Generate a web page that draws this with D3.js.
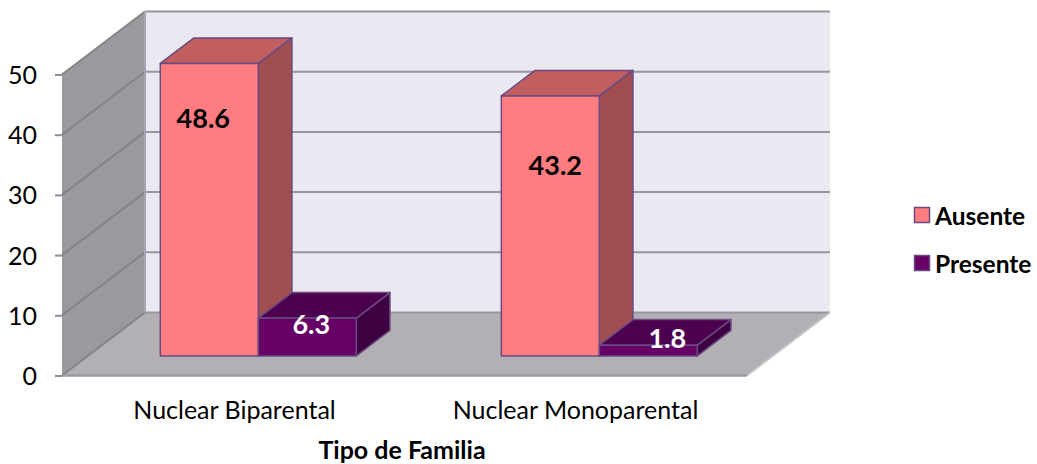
<!DOCTYPE html>
<html>
<head>
<meta charset="utf-8">
<script src="https://cdn.jsdelivr.net/npm/d3@7"></script>
<style>
  html, body { margin: 0; background: #fff; }
  text { font-family: Lato, "Open Sans", sans-serif; fill: #000; }
  .axis path { display: none; }
  .axis line { stroke: #8f8c96; stroke-width: 2; }
  .axis text { font-size: 25px; }
</style>
</head>
<body>
<div id="chart"></div>
<script>
const categories = ["Nuclear Biparental", "Nuclear Monoparental"];
const seriesNames = ["Ausente", "Presente"];
const ausente = [48.6, 43.2];
const presente = [6.3, 1.8];
const yTicks = [0, 10, 20, 30, 40, 50];
const xTitle = "Tipo de Familia";

const w = 1037;
const h = 464;

// oblique projection of the 3d box
const depthX = 83;
const depthY = -63;
const barDepth = 0.405;
const barPlaneX = 0.29;
const barPlaneY = 0.31;

const color = {
  Ausente: { front: "#ff7c80", top: "#c15e60", side: "#a14e51", text: "#000" },
  Presente: { front: "#660066", top: "#4d004f", side: "#3d0040", text: "#fff" }
};
const barStroke = "#6a4a80";

// hand placed data labels, relative to the middle of the top of the front face
const labelNudge = {
  Ausente: [[-6, 54], [5, 69]],
  Presente: [[4, 5], [19, -8]]
};

let x = d3.scaleBand().domain(categories).range([64, 746]);
let xSeries = d3
  .scaleBand()
  .domain(seriesNames)
  .range([x.bandwidth() / 2 - 98.25, x.bandwidth() / 2 + 97.75]);
let y = d3.scaleLinear().domain([0, 50]).range([375.5, 74.5]);

let rows = [];
categories.forEach(function (c, i) {
  rows.push({ category: c, i: i, series: "Ausente", value: ausente[i] });
  rows.push({ category: c, i: i, series: "Presente", value: presente[i] });
});

let svg = d3
  .select("#chart")
  .append("svg")
  .attr("width", w)
  .attr("height", h)
  .style("display", "block");

function pts(list) {
  return list
    .map(function (p) {
      return p.join(",");
    })
    .join(" ");
}

const x0 = 62;
const x1 = 747;

// back wall
svg
  .append("polygon")
  .attr(
    "points",
    pts([
      [x0 + depthX, y(50) + depthY],
      [x1 + depthX, y(50) + depthY],
      [x1 + depthX, y(0) + depthY],
      [x0 + depthX, y(0) + depthY]
    ])
  )
  .attr("fill", "#eae8f0");

// left wall
svg
  .append("polygon")
  .attr(
    "points",
    pts([
      [x0, y(50)],
      [x0 + depthX, y(50) + depthY],
      [x0 + depthX, y(0) + depthY],
      [x0, y(0)]
    ])
  )
  .attr("fill", "#9b999e");

// floor
svg
  .append("polygon")
  .attr(
    "points",
    pts([
      [x0, y(0)],
      [x1, y(0)],
      [x1 + depthX, y(0) + depthY],
      [x0 + depthX, y(0) + depthY]
    ])
  )
  .attr("fill", "#b2b0b4");

// gridlines, along the back wall then along the left wall
let grid = svg.append("g").attr("fill", "none").attr("stroke", "#98959f").attr("stroke-width", 2);
grid
  .selectAll(".back")
  .data(yTicks)
  .enter()
  .append("line")
  .attr("class", "back")
  .attr("x1", x0 + depthX)
  .attr("x2", x1 + depthX)
  .attr("y1", function (d) {
    return y(d) + depthY;
  })
  .attr("y2", function (d) {
    return y(d) + depthY;
  });
grid
  .selectAll(".side")
  .data(yTicks)
  .enter()
  .append("line")
  .attr("class", "side")
  .attr("stroke", "#858388")
  .attr("x1", x0)
  .attr("x2", x0 + depthX)
  .attr("y1", function (d) {
    return y(d);
  })
  .attr("y2", function (d) {
    return y(d) + depthY;
  });
grid
  .append("line")
  .attr("x1", x0 + depthX)
  .attr("x2", x0 + depthX)
  .attr("y1", y(50) + depthY)
  .attr("y2", y(0) + depthY)
  .attr("stroke", "#a8a6ac");
grid
  .append("line")
  .attr("x1", x1)
  .attr("x2", x1 + depthX)
  .attr("y1", y(0))
  .attr("y2", y(0) + depthY)
  .attr("stroke", "#c4c2c6");
grid
  .append("line")
  .attr("x1", x0)
  .attr("x2", x1)
  .attr("y1", y(0))
  .attr("y2", y(0))
  .attr("stroke", "#9c9a9f")
  .attr("stroke-width", 2.5);

// bars
let bar = svg
  .append("g")
  .selectAll("g")
  .data(rows)
  .enter()
  .append("g")
  .attr("stroke", barStroke)
  .attr("stroke-width", 1.5)
  .attr("stroke-linejoin", "round");

function box(d) {
  let left = x(d.category) + xSeries(d.series) + depthX * barPlaneX;
  let right = left + xSeries.bandwidth();
  let base = y(0) + depthY * barPlaneY;
  let top = base - (y(0) - y(d.value));
  return {
    left: left,
    right: right,
    base: base,
    top: top,
    dx: depthX * barDepth,
    dy: depthY * barDepth
  };
}

bar
  .append("polygon")
  .attr("points", function (d) {
    let b = box(d);
    return pts([
      [b.right, b.top],
      [b.right + b.dx, b.top + b.dy],
      [b.right + b.dx, b.base + b.dy],
      [b.right, b.base]
    ]);
  })
  .attr("fill", function (d) {
    return color[d.series].side;
  });

bar
  .append("polygon")
  .attr("points", function (d) {
    let b = box(d);
    return pts([
      [b.left, b.top],
      [b.left + b.dx, b.top + b.dy],
      [b.right + b.dx, b.top + b.dy],
      [b.right, b.top]
    ]);
  })
  .attr("fill", function (d) {
    return color[d.series].top;
  });

bar
  .append("rect")
  .attr("x", function (d) {
    return box(d).left;
  })
  .attr("y", function (d) {
    return box(d).top;
  })
  .attr("width", xSeries.bandwidth())
  .attr("height", function (d) {
    return box(d).base - box(d).top;
  })
  .attr("fill", function (d) {
    return color[d.series].front;
  });

// data labels
svg
  .append("g")
  .selectAll("text")
  .data(rows)
  .enter()
  .append("text")
  .attr("text-anchor", "middle")
  .attr("dominant-baseline", "central")
  .attr("font-size", 27)
  .attr("font-weight", 700)
  .style("fill", function (d) {
    return color[d.series].text;
  })
  .attr("x", function (d) {
    let b = box(d);
    return (b.left + b.right) / 2 + labelNudge[d.series][d.i][0];
  })
  .attr("y", function (d) {
    return box(d).top + labelNudge[d.series][d.i][1];
  })
  .text(function (d) {
    return d.value.toFixed(1);
  });

// y axis
let yAxis = d3.axisLeft(y).tickValues(yTicks).tickSize(7).tickPadding(18);
let yg = svg.append("g").attr("class", "axis").attr("transform", `translate(${x0},0)`).call(yAxis);
yg.selectAll("text").attr("dy", "0.36em");

// category labels
let xAxis = d3.axisBottom(x).tickSize(0).tickPadding(26);
svg.append("g").attr("class", "axis").attr("transform", `translate(0,${y(0)})`).call(xAxis);

svg
  .append("text")
  .attr("x", 402)
  .attr("y", 449)
  .attr("text-anchor", "middle")
  .attr("dominant-baseline", "central")
  .attr("font-size", 25)
  .attr("font-weight", 700)
  .text(xTitle);

// legend
let legendY = d3.scalePoint().domain(seriesNames).range([215, 263]);
let legend = svg
  .append("g")
  .selectAll("g")
  .data(seriesNames)
  .enter()
  .append("g")
  .attr("transform", function (d) {
    return `translate(914,${legendY(d)})`;
  });
legend
  .append("rect")
  .attr("x", 0.5)
  .attr("y", -7.5)
  .attr("width", 15)
  .attr("height", 15)
  .attr("fill", function (d) {
    return color[d].front;
  })
  .attr("stroke", barStroke)
  .attr("stroke-width", 1.5);
legend
  .append("text")
  .attr("x", 21)
  .attr("dominant-baseline", "central")
  .attr("font-size", 24.5)
  .attr("font-weight", 700)
  .text(function (d) {
    return d;
  });
</script>
</body>
</html>
